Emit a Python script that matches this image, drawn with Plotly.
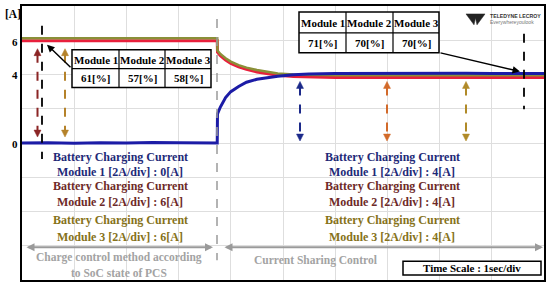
import plotly.graph_objects as go

# ---------------- data ----------------
time_m1 = [0.0, 0.5, 1.0, 1.5, 2.0, 2.5, 3.0, 3.5, 3.74, 3.745, 3.8, 3.9, 4.0, 4.15, 4.3,
           4.5, 4.7, 4.9, 5.2, 5.5, 6.0, 6.5, 7.0, 7.5, 8.0, 8.5, 9.0, 9.5, 10.0]
module1 = [0.0, 0.02, -0.01, 0.02, 0.0, 0.03, 0.01, 0.02, 0.0, 1.7, 2.1, 2.65, 3.0, 3.3, 3.55,
           3.72, 3.83, 3.9, 3.98, 4.03, 4.06, 4.07, 4.05, 4.07, 4.06, 4.07, 4.06, 4.07, 4.06]

time_m23 = [0.0, 1.0, 2.0, 3.0, 3.74, 3.745, 3.8, 3.9, 4.0, 4.15, 4.3, 4.5, 4.7, 4.9, 5.2,
            5.5, 6.0, 7.0, 8.0, 9.0, 10.0]
module2 = [5.97, 5.97, 5.97, 5.97, 5.97, 5.3, 5.1, 4.85, 4.65, 4.45, 4.3, 4.15, 4.03, 3.95, 3.88,
           3.85, 3.83, 3.83, 3.83, 3.83, 3.83]
module3 = [6.12, 6.12, 6.12, 6.12, 6.12, 5.4, 5.2, 4.95, 4.75, 4.55, 4.4, 4.26, 4.15, 4.06, 4.0,
           3.97, 3.95, 3.95, 3.95, 3.95, 3.95]

share_before = ["61[%]", "57[%]", "58[%]"]
share_after = ["71[%]", "70[%]", "70[%]"]
module_names = ["Module 1", "Module 2", "Module 3"]
current_before = [0, 6, 6]
current_after = [4, 4, 4]

# ---------------- geometry helpers (pixel -> paper) ----------------
W, H = 550, 285
L, R, T, B = 22, 544, 4, 280

def px(x):
    return (x - L) / (R - L)

def py(y):
    return (B - y) / (B - T)

SERIF = "Liberation Serif"
C_BLUE = "#1c1ca6"
C_RED = "#e8203c"
C_OLIVE = "#8a9038"
TXT = ["#1e2a78", "#6e2a28", "#86721a"]

fig = go.Figure()
fig.add_trace(go.Scatter(x=time_m23, y=module2, mode="lines",
                         line=dict(color=C_RED, width=3), hoverinfo="skip"))
fig.add_trace(go.Scatter(x=time_m23, y=module3, mode="lines",
                         line=dict(color=C_OLIVE, width=2.5), hoverinfo="skip"))
fig.add_trace(go.Scatter(x=time_m1, y=module1, mode="lines",
                         line=dict(color=C_BLUE, width=3), hoverinfo="skip"))

shapes = []
ann = []

def seg(x0, y0, x1, y1, color, width=1.5, dash="solid"):
    shapes.append(dict(type="line", xref="paper", yref="paper",
                       x0=px(x0), y0=py(y0), x1=px(x1), y1=py(y1),
                       line=dict(color=color, width=width, dash=dash)))

def tri(pts, color):
    p = "M " + " L ".join(f"{px(a)},{py(b)}" for a, b in pts) + " Z"
    shapes.append(dict(type="path", xref="paper", yref="paper", path=p,
                       fillcolor=color, line=dict(color=color, width=0.5)))

def darrow(x, y1, y2, color):
    seg(x, y1 + 5, x, y2 - 5, color, 2, "dash")
    tri([(x - 3.5, y1 + 7), (x + 3.5, y1 + 7), (x, y1)], color)
    tri([(x - 3.5, y2 - 7), (x + 3.5, y2 - 7), (x, y2)], color)

def text(x, y, s, size=11, color="black", family=SERIF, bold=True, xanchor="center"):
    ann.append(dict(xref="paper", yref="paper", x=px(x), y=py(y), text=(f"<b>{s}</b>" if bold else s),
                    showarrow=False, xanchor=xanchor, yanchor="middle",
                    font=dict(family=family, size=size, color=color)))

def table(x0, x1, y0, ym, y1, cols, vals):
    shapes.append(dict(type="rect", xref="paper", yref="paper", x0=px(x0), x1=px(x1),
                       y0=py(y0), y1=py(y1), fillcolor="white", line=dict(color="black", width=1.5)))
    seg(x0, ym, x1, ym, "black", 1.2)
    edges = [x0] + cols + [x1]
    for c in cols:
        seg(c, y0, c, y1, "black", 1.2)
    for i in range(3):
        cx = (edges[i] + edges[i + 1]) / 2
        text(cx, (y0 + ym) / 2 + 0.5, module_names[i], 11)
        text(cx, (ym + y1) / 2 + 0.5, vals[i], 11)

# step marker and region arrows
seg(217, 17, 217, 260, "#9a9a9a", 1.5, "dash")
ann.append(dict(xref="paper", yref="paper", x=px(213), y=py(247), ax=25 - 213,
                ay=0, showarrow=True, arrowhead=2, arrowside="end+start", arrowwidth=2,
                arrowsize=0.8, arrowcolor="#9a9a9a", text=""))
ann.append(dict(xref="paper", yref="paper", x=px(543), y=py(247), ax=223 - 543,
                ay=0, showarrow=True, arrowhead=2, arrowside="end+start", arrowwidth=2,
                arrowsize=0.8, arrowcolor="#9a9a9a", text=""))

# cursors
seg(42, 24, 42, 158, "black", 1.8, "dash")
seg(524, 32, 524, 108, "black", 1.8, "dash")

darrow(37.5, 47, 136, "#8b2525")
darrow(65, 47, 136, "#b5822a")
darrow(300, 80, 140, "#1c2a8a")
darrow(387, 80, 140, "#d26a2a")
darrow(466, 80, 140, "#b08a28")

# tables
table(72, 211, 48, 67, 86, [119, 165], share_before)
table(299, 439, 10, 31, 51, [346, 393], share_after)
ann.append(dict(xref="paper", yref="paper", x=px(47), y=py(43), ax=25, ay=24, showarrow=True,
                arrowhead=2, arrowsize=1, arrowwidth=1.5, arrowcolor="black", text=""))
ann.append(dict(xref="paper", yref="paper", x=px(520), y=py(70), ax=-81, ay=-19, showarrow=True,
                arrowhead=2, arrowsize=1, arrowwidth=1.5, arrowcolor="black", text=""))

# module annotations
ys = [(156, 171), (185, 201.5), (219.5, 237)]
for i in range(3):
    text(120, ys[i][0], "Battery Charging Current", 12, TXT[i])
    text(120, ys[i][1], f"Module {i+1} [2A/div] : {current_before[i]}[A]", 12, TXT[i])
    text(392, ys[i][0], "Battery Charging Current", 12, TXT[i])
    text(392, ys[i][1], f"Module {i+1} [2A/div] : {current_after[i]}[A]", 12, TXT[i])

text(119, 257, "Charge control method according", 11.5, "#a3a3a3")
text(119, 273, "to SoC state of PCS", 11.5, "#a3a3a3")
text(315, 260, "Current Sharing Control", 11.5, "#a3a3a3")

shapes.append(dict(type="rect", xref="paper", yref="paper", x0=px(403), x1=px(541),
                   y0=py(261), y1=py(275), fillcolor="white", line=dict(color="black", width=1.5)))
text(472, 268, "Time Scale : 1sec/div", 11, "black")

# axis labels
text(13, 12, "[A]", 11.5)
text(15, 40, "6", 11)
text(15, 74, "4", 11)
text(15, 143, "0", 11)

# logo
tri([(466, 12), (485, 12), (477, 23), (475.5, 16), (474, 23)], "#222222")
text(488, 14.5, "TELEDYNE LECROY", 5.2, "#333333", "Liberation Sans", True, "left")
text(488, 20.5, "Everywhereyoulook", 5, "#777777", "Liberation Sans", False, "left")

fig.update_layout(
    width=W, height=H,
    margin=dict(l=L, r=W - R, t=T, b=H - B),
    paper_bgcolor="white", plot_bgcolor="white",
    showlegend=False,
    shapes=shapes, annotations=ann,
    xaxis=dict(range=[0, 10], dtick=1, tick0=0, showgrid=True, gridcolor="#dedede", gridwidth=1,
               showticklabels=False, ticks="", zeroline=False, showline=True, mirror=True,
               linecolor="black", linewidth=2, fixedrange=True),
    yaxis=dict(range=[-8, 8], dtick=2, tick0=0, showgrid=True, gridcolor="#dedede", gridwidth=1,
               showticklabels=False, ticks="", zeroline=False, showline=True, mirror=True,
               linecolor="black", linewidth=2, fixedrange=True),
)

fig.write_html("out.html", config={"displayModeBar": False},
               post_script="document.body.style.margin='0';document.body.style.overflow='hidden';")
